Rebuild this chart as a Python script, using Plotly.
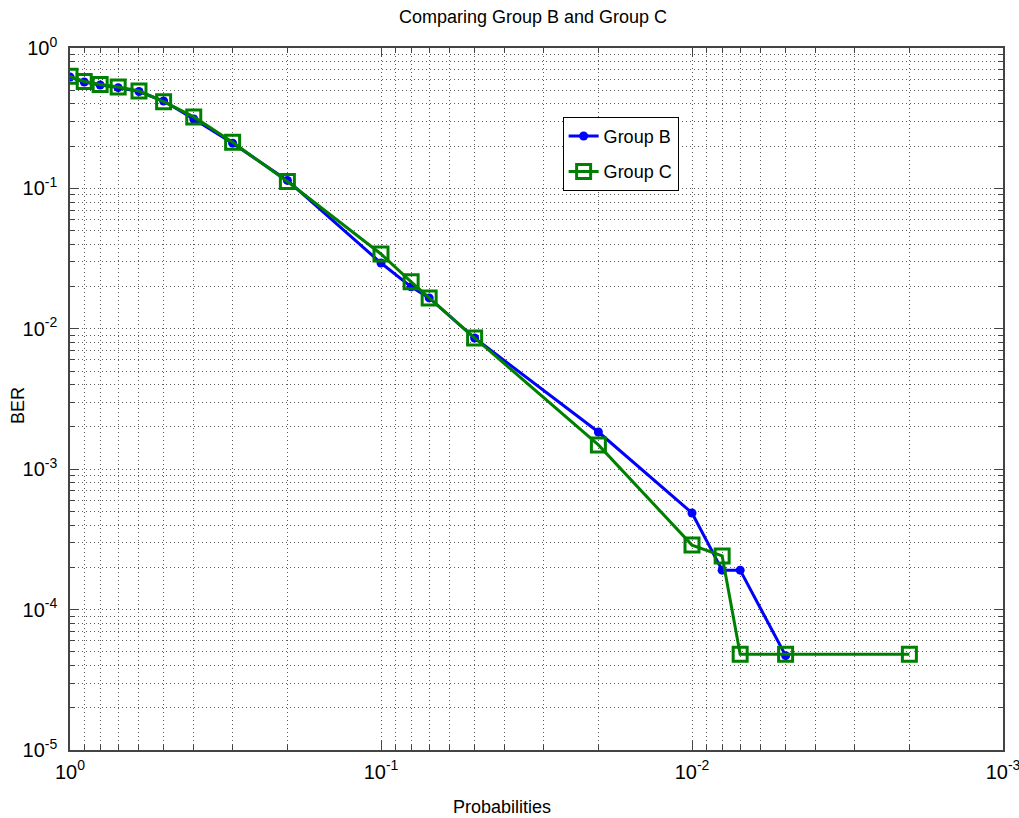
import plotly.graph_objects as go

# ---- data ----
prob_b = [1, 0.9, 0.8, 0.7, 0.6, 0.5, 0.4, 0.3, 0.2, 0.1, 0.08, 0.07, 0.05, 0.02, 0.01, 0.008, 0.007, 0.005]
ber_b = [0.621, 0.573, 0.545, 0.522, 0.49, 0.419, 0.312, 0.21, 0.114, 0.0294, 0.0199, 0.0166, 0.0086,
         0.00184, 0.000488, 0.000191, 0.000191, 4.7e-5]

prob_c = [1, 0.9, 0.8, 0.7, 0.6, 0.5, 0.4, 0.3, 0.2, 0.1, 0.08, 0.07, 0.05, 0.02, 0.01, 0.008, 0.007, 0.005, 0.002]
ber_c = [0.628, 0.578, 0.55, 0.527, 0.494, 0.415, 0.323, 0.213, 0.112, 0.0341, 0.0216, 0.0166, 0.0086,
         0.00149, 0.000288, 0.000241, 4.8e-5, 4.8e-5, 4.8e-5]

x_tick_vals = [1, 0.1, 0.01, 0.001]
x_tick_text = ["10<sup>0</sup>", "10<sup>-1</sup>", "10<sup>-2</sup>", "10<sup>-3</sup>"]
y_tick_vals = [1, 0.1, 0.01, 0.001, 1e-4, 1e-5]
y_tick_text = ["10<sup>0</sup>", "10<sup>-1</sup>", "10<sup>-2</sup>", "10<sup>-3</sup>",
               "10<sup>-4</sup>", "10<sup>-5</sup>"]

x_minor = [m * 10.0 ** e for e in (-3, -2, -1) for m in range(2, 10)]
y_minor = [m * 10.0 ** e for e in (-5, -4, -3, -2, -1) for m in range(2, 10)]

FONT = "Arial, Liberation Sans, sans-serif"
GRID = "#5a5a5a"
DOT = "1px,3px"

fig = go.Figure()
fig.add_trace(go.Scatter(
    x=prob_b, y=ber_b, name="Group B", mode="lines+markers", legendgroup="b",
    line=dict(color="#0000ff", width=3),
    marker=dict(symbol="circle", size=9, color="#0000ff"),
))
fig.add_trace(go.Scatter(
    x=prob_c, y=ber_c, name="Group C", mode="lines+markers", legendgroup="c",
    line=dict(color="#008000", width=3),
    marker=dict(symbol="square-open", size=14, color="#008000", line=dict(width=3, color="#008000")),
))

axis_common = dict(
    type="log", automargin=False,
    showline=True, linecolor="#444", linewidth=1.5, mirror="allticks",
    ticks="inside", ticklen=9, tickcolor="#444", tickwidth=1,
    showgrid=True, gridcolor=GRID, griddash=DOT, gridwidth=1,
    zeroline=False, ticklabeloverflow="allow",
    tickfont=dict(family=FONT, size=20, color="black"),
    tickmode="array",
)

fig.update_xaxes(
    **axis_common,
    range=[0, -3],
    tickvals=x_tick_vals, ticktext=x_tick_text, ticklabelstandoff=3,
    minor=dict(tickmode="array", tickvals=x_minor, ticks="inside", ticklen=5,
               tickcolor="#444", showgrid=True, gridcolor=GRID, griddash=DOT, gridwidth=1),
)
fig.update_yaxes(
    **axis_common,
    range=[-5, 0],
    tickvals=y_tick_vals, ticktext=y_tick_text, ticklabelstandoff=7,
    minor=dict(tickmode="array", tickvals=y_minor, ticks="inside", ticklen=5,
               tickcolor="#444", showgrid=True, gridcolor=GRID, griddash=DOT, gridwidth=1),
)

fig.update_layout(
    width=1019, height=818,
    margin=dict(l=70, r=16, t=48, b=68),
    paper_bgcolor="white", plot_bgcolor="white",
    title=dict(text="Comparing Group B and Group C", x=533 / 1019, xanchor="center", xref="container",
               y=1 - 17 / 818, yanchor="middle", font=dict(family=FONT, size=18, color="black")),
    legend=dict(x=0.528, y=0.902, xanchor="left", yanchor="top",
                bgcolor="white", bordercolor="black", borderwidth=1,
                font=dict(family=FONT, size=18, color="black"),
                itemwidth=30, tracegroupgap=9),
    showlegend=True,
    annotations=[
        dict(text="Probabilities", xref="paper", yref="paper", x=(502 - 70) / 933, y=-57 / 702,
             xanchor="center", yanchor="middle", showarrow=False,
             font=dict(family=FONT, size=18, color="black")),
        dict(text="BER", xref="paper", yref="paper", x=-52 / 933, y=0.49, textangle=-90,
             xanchor="center", yanchor="middle", showarrow=False,
             font=dict(family=FONT, size=18, color="black")),
    ],
)

fig.write_html("out.html", config={"displayModeBar": False},
               post_script="document.body.style.margin='0';")
